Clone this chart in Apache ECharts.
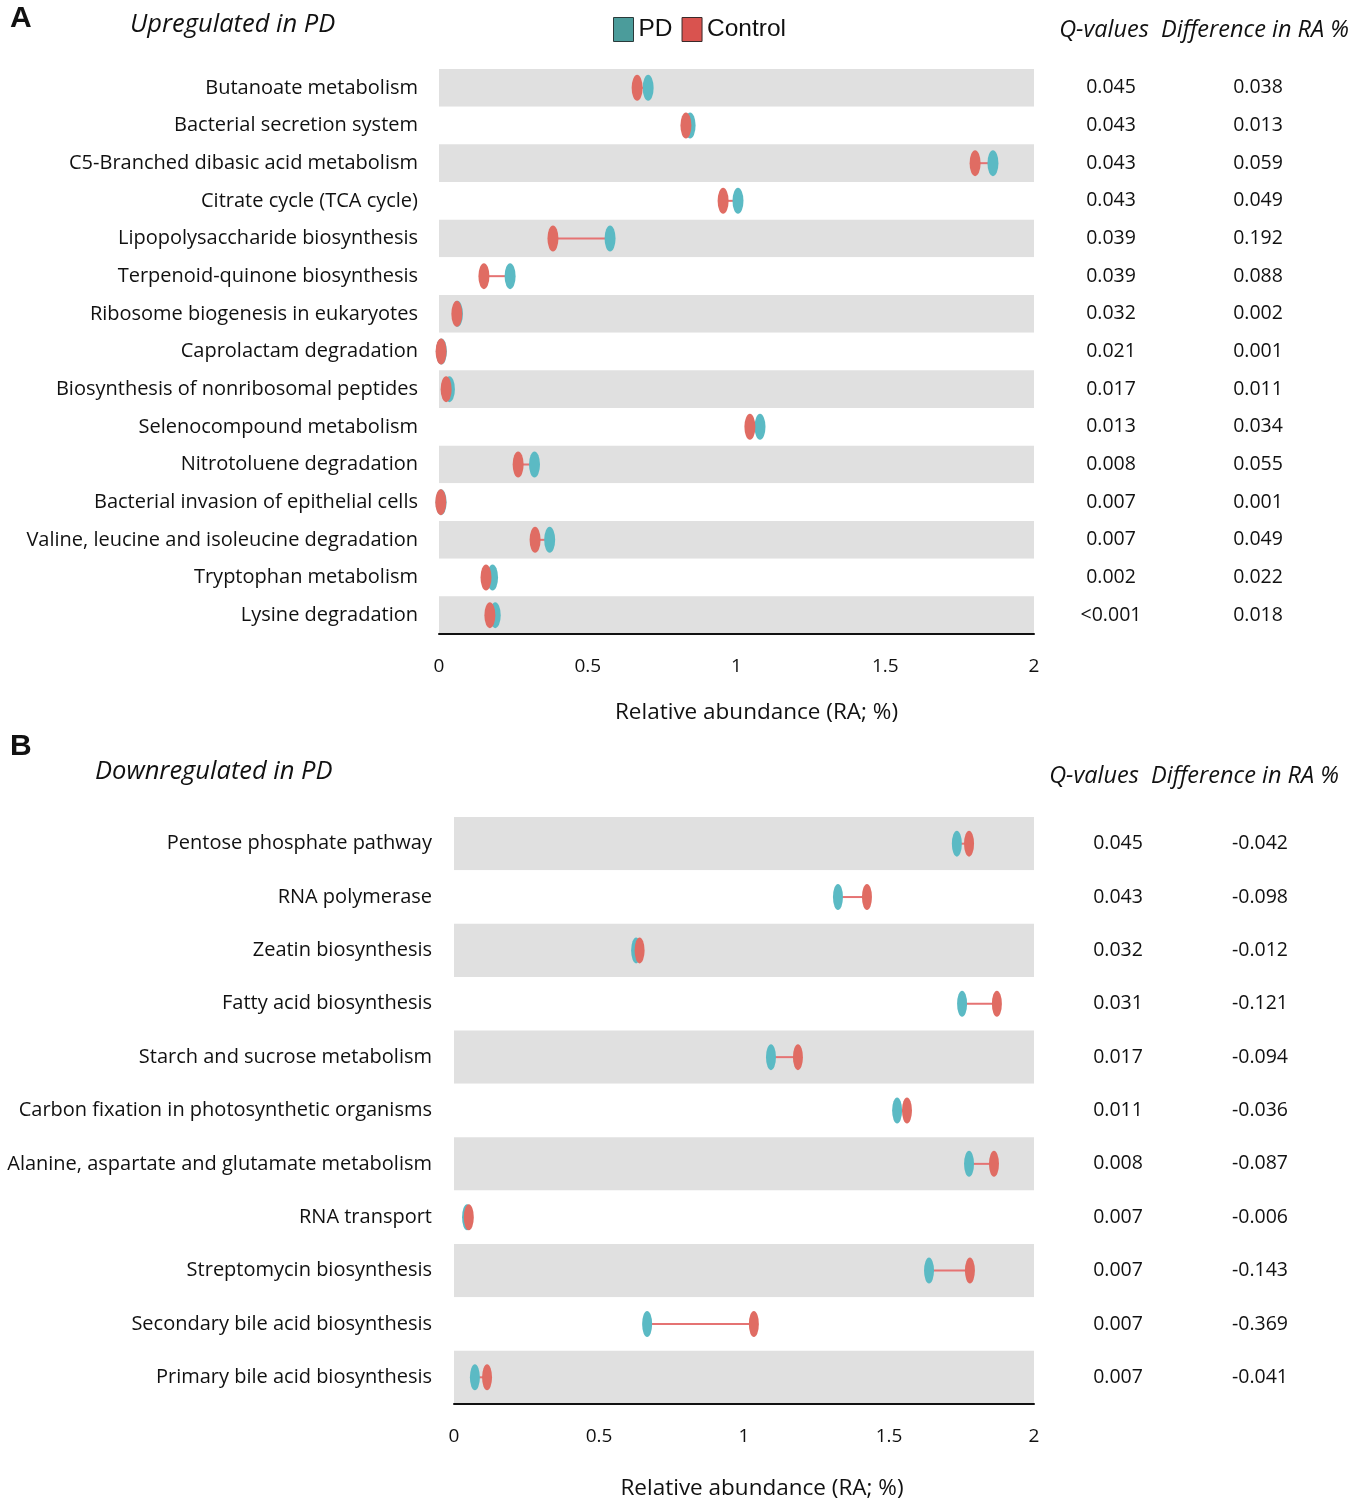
<!DOCTYPE html>
<html>
<head>
<meta charset="utf-8">
<script src="https://cdn.jsdelivr.net/npm/echarts@6/dist/echarts.min.js"></script>
<style>
html,body{margin:0;padding:0;background:#fff;}
#chart{width:1356px;height:1506px;}
</style>
</head>
<body>
<div id="chart"></div>
<script>
// ---------- Data ----------
const upCategories = [
  'Butanoate metabolism','Bacterial secretion system','C5-Branched dibasic acid metabolism',
  'Citrate cycle (TCA cycle)','Lipopolysaccharide biosynthesis','Terpenoid-quinone biosynthesis',
  'Ribosome biogenesis in eukaryotes','Caprolactam degradation','Biosynthesis of nonribosomal peptides',
  'Selenocompound metabolism','Nitrotoluene degradation','Bacterial invasion of epithelial cells',
  'Valine, leucine and isoleucine degradation','Tryptophan metabolism','Lysine degradation'
];
const upPD      = [0.703,0.844,1.862,1.005,0.575,0.239,0.062,0.008,0.035,1.079,0.321,0.007,0.372,0.180,0.189];
const upControl = [0.666,0.830,1.802,0.955,0.383,0.151,0.060,0.007,0.024,1.045,0.266,0.006,0.323,0.158,0.171];
const upQ    = ['0.045','0.043','0.043','0.043','0.039','0.039','0.032','0.021','0.017','0.013','0.008','0.007','0.007','0.002','<0.001'];
const upDiff = ['0.038','0.013','0.059','0.049','0.192','0.088','0.002','0.001','0.011','0.034','0.055','0.001','0.049','0.022','0.018'];

const downCategories = [
  'Pentose phosphate pathway','RNA polymerase','Zeatin biosynthesis','Fatty acid biosynthesis',
  'Starch and sucrose metabolism','Carbon fixation in photosynthetic organisms',
  'Alanine, aspartate and glutamate metabolism','RNA transport','Streptomycin biosynthesis',
  'Secondary bile acid biosynthesis','Primary bile acid biosynthesis'
];
const downPD      = [1.734,1.324,0.628,1.752,1.093,1.528,1.776,0.045,1.638,0.666,0.072];
const downControl = [1.776,1.424,0.640,1.872,1.186,1.562,1.862,0.051,1.779,1.034,0.114];
const downQ    = ['0.045','0.043','0.032','0.031','0.017','0.011','0.008','0.007','0.007','0.007','0.007'];
const downDiff = ['-0.042','-0.098','-0.012','-0.121','-0.094','-0.036','-0.087','-0.006','-0.143','-0.369','-0.041'];

const xTicks = [0, 0.5, 1, 1.5, 2];

// ---------- Styles ----------
const FONT = '"Open Sans", "Noto Sans", sans-serif';
const PD_COLOR = '#5bbac4';
const CTRL_COLOR = '#e06c63';
const LINE_COLOR = '#e57373';

const chart = echarts.init(document.getElementById('chart'));

function catAxis(grid, cats, margin) {
  return {
    type: 'category', gridIndex: grid, data: cats, inverse: true,
    axisLine: {show: false}, axisTick: {show: false},
    axisLabel: {fontFamily: FONT, fontSize: 20, color: '#111', margin: margin},
    splitArea: {show: true, areaStyle: {color: ['#e0e0e0', '#ffffff']}},
    splitLine: {show: false}
  };
}
function rightAxis(grid, cats, labels, margin) {
  return {
    type: 'category', gridIndex: grid, data: cats, inverse: true, position: 'right',
    axisLine: {show: false}, axisTick: {show: false},
    axisLabel: {fontFamily: FONT, fontSize: 19.5, color: '#111', margin: margin, align: 'center',
      formatter: (v, i) => labels[i]},
    splitLine: {show: false}
  };
}
function valAxis(grid, gap, shift) {
  return {
    type: 'value', gridIndex: grid, min: 0, max: 2, interval: 0.5,
    axisLine: {show: true, lineStyle: {color: '#111', width: 2}},
    axisTick: {show: false}, splitLine: {show: false},
    axisLabel: {fontFamily: FONT, fontSize: 19, color: '#111', margin: 23,
      formatter: v => (xTicks.indexOf(v) >= 0 ? String(v) : '')},
    name: 'Relative abundance (RA; %)', nameLocation: 'middle', nameGap: gap,
    nameTextStyle: {fontFamily: FONT, fontSize: 22.5, color: '#111', padding: [0, 0, 0, shift]}
  };
}
function connector(xi, yi, pd, ctrl) {
  return {
    type: 'custom', xAxisIndex: xi, yAxisIndex: yi, silent: true, z: 2,
    data: pd.map((v, i) => [v, ctrl[i], i]),
    renderItem: function (params, api) {
      const a = api.coord([api.value(0), api.value(2)]);
      const b = api.coord([api.value(1), api.value(2)]);
      return {type: 'line', shape: {x1: a[0], y1: a[1], x2: b[0], y2: b[1]},
        style: {stroke: LINE_COLOR, lineWidth: 2}};
    },
    encode: {x: [0, 1], y: 2}
  };
}
function dots(name, xi, yi, vals, color, size, z) {
  return {
    type: 'scatter', name: name, xAxisIndex: xi, yAxisIndex: yi, z: z,
    symbol: 'circle', symbolSize: size,
    itemStyle: {color: color, opacity: 1},
    data: vals.map((v, i) => [v, i])
  };
}

const HFONT = 'italic 23.5px "Open Sans", sans-serif';
const option = {
  animation: false,
  backgroundColor: '#fff',
  legend: {
    top: 12, left: 608, itemWidth: 20, itemHeight: 24, itemGap: 9,
    icon: 'rect',
    textStyle: {fontFamily: '"Liberation Sans", Arial, sans-serif', fontSize: 24.5, color: '#111'},
    data: [
      {name: 'PD', itemStyle: {color: '#4b9c9b', borderColor: '#2a3a3a', borderWidth: 1}},
      {name: 'Control', itemStyle: {color: '#d9534f', borderColor: '#3a2a2a', borderWidth: 1}}
    ]
  },
  grid: [
    {left: 439, right: 322, top: 69, height: 565},
    {left: 454, right: 322, top: 817, height: 587}
  ],
  xAxis: [valAxis(0, 67, 40), valAxis(1, 73, 36)],
  yAxis: [
    catAxis(0, upCategories, 21),
    rightAxis(0, upCategories, upQ, 77),
    rightAxis(0, upCategories, upDiff, 224),
    catAxis(1, downCategories, 22),
    rightAxis(1, downCategories, downQ, 84),
    rightAxis(1, downCategories, downDiff, 226)
  ],
  series: [
    connector(0, 0, upPD, upControl),
    dots('PD', 0, 0, upPD, PD_COLOR, [11, 26], 3),
    dots('Control', 0, 0, upControl, CTRL_COLOR, [11, 26], 4),
    connector(1, 3, downPD, downControl),
    dots('PD', 1, 3, downPD, PD_COLOR, [10, 26], 3),
    dots('Control', 1, 3, downControl, CTRL_COLOR, [10, 26], 4)
  ],
  graphic: [
    {type: 'text', left: 10, top: 4, style: {text: 'A', font: 'bold 30px "Liberation Sans", Arial, sans-serif', fill: '#111'}},
    {type: 'text', left: 10, top: 732, style: {text: 'B', font: 'bold 30px "Liberation Sans", Arial, sans-serif', fill: '#111'}},
    {type: 'text', left: 130, top: 12, style: {text: 'Upregulated in PD', font: 'italic 25.5px "Open Sans", sans-serif', fill: '#111'}},
    {type: 'text', left: 95, top: 759, style: {text: 'Downregulated in PD', font: 'italic 25.5px "Open Sans", sans-serif', fill: '#111'}},
    {type: 'text', x: 1104, y: 30, style: {text: 'Q-values', font: HFONT, fill: '#111', align: 'center', verticalAlign: 'middle'}},
    {type: 'text', x: 1255, y: 30, style: {text: 'Difference in RA %', font: HFONT, fill: '#111', align: 'center', verticalAlign: 'middle'}},
    {type: 'text', x: 1094, y: 776, style: {text: 'Q-values', font: HFONT, fill: '#111', align: 'center', verticalAlign: 'middle'}},
    {type: 'text', x: 1245, y: 776, style: {text: 'Difference in RA %', font: HFONT, fill: '#111', align: 'center', verticalAlign: 'middle'}}
  ]
};
chart.setOption(option);
</script>
</body>
</html>
